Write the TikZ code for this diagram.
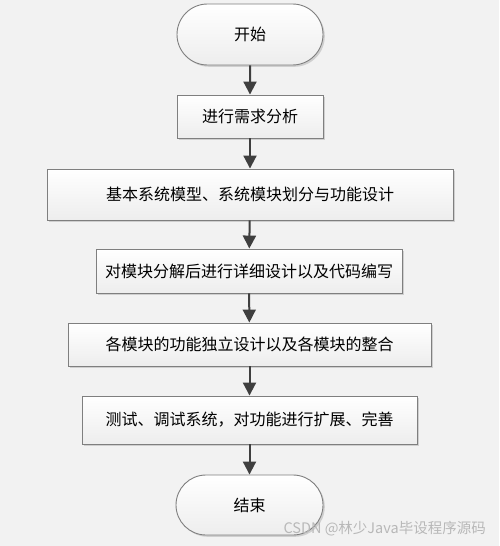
\documentclass[tikz,border=0pt]{standalone}
\usepackage{fontspec}
\usepackage{tikz}
\usepackage{xcolor}
\setmainfont{Noto Sans CJK SC}
\usetikzlibrary{arrows.meta,shapes.misc,shadows}
\definecolor{bgGray}{HTML}{F2F2F2}
\definecolor{edgeGray}{HTML}{7F7F7F}
\definecolor{arrowGray}{HTML}{3F3F3F}

\begin{document}
\begin{tikzpicture}[x=1pt,y=-1pt,
  stepbox/.style={draw=edgeGray,line width=0.9pt,top color=white,bottom color=black!7,
    drop shadow={shadow xshift=1.8pt,shadow yshift=-1.8pt,fill=black!22,opacity=0.8},
    inner sep=0pt,font=\fontsize{16}{19}\selectfont},
  terminal/.style={stepbox,rounded rectangle,minimum width=146pt,minimum height=61pt},
  flow/.style={draw=arrowGray,line width=2pt,-{Triangle[length=13pt,width=13pt]}}]
\fill[bgGray] (0,0) rectangle (499,546);
\useasboundingbox (0,0) rectangle (499,546);
\node[terminal] (start) at (250,34.5) {开始};
\node[stepbox,minimum width=146pt,minimum height=43pt] (req) at (250,116.5) {进行需求分析};
\node[stepbox,minimum width=406pt,minimum height=51pt] (model) at (250,194.5) {基本系统模型、系统模块划分与功能设计};
\node[stepbox,minimum width=306pt,minimum height=44pt] (detail) at (249,271) {对模块分解后进行详细设计以及代码编写};
\node[stepbox,minimum width=363pt,minimum height=43pt] (merge) at (249.5,344.5) {各模块的功能独立设计以及各模块的整合};
\node[stepbox,minimum width=335pt,minimum height=48pt] (test) at (249.5,420) {测试、调试系统，对功能进行扩展、完善};
\node[terminal,minimum width=147pt,minimum height=60pt] (stop) at (249.5,505) {结束};
\draw[flow] (start) -- (req);
\draw[flow] (req) -- (model);
\draw[flow] (model) -- (detail);
\draw[flow] (detail) -- (merge);
\draw[flow] (merge) -- (test);
\draw[flow] (test) -- (stop);
\node[text=black!28,font=\fontsize{14.5}{17}\selectfont,anchor=east,inner sep=0pt] (mark) at (486,529) {CSDN @林少Java毕设程序源码};
\end{tikzpicture}
\end{document}
